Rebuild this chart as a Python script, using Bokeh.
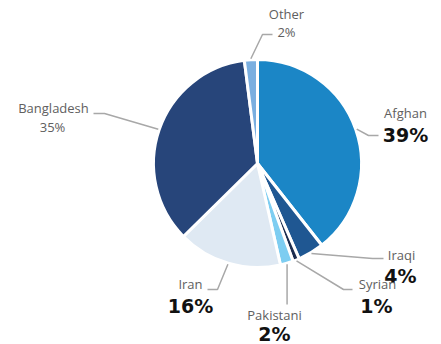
import math
from bokeh.plotting import figure
from bokeh.models import Range1d, ColumnDataSource
from bokeh.core.properties import value
from bokeh.embed import file_html
from bokeh.resources import INLINE

# ---- data ----
categories = ["Afghan", "Iraqi", "Syrian", "Pakistani", "Iran", "Bangladesh", "Other"]
shares = [39, 4, 1, 2, 16, 35, 2]
pct_labels = ["39%", "4%", "1%", "2%", "16%", "35%", "2%"]
colors = ["#1b86c6", "#1f5792", "#1b2d50", "#7dcdf1", "#dfe9f3", "#27457a", "#7aafe0"]
bold_pct = [True, True, True, True, True, False, False]

# ---- layout (page pixel coordinates, y down) ----
W, H = 441, 344
CX, CY, R = 257, 163, 104
# label centres: (name x, name y, pct x, pct y)
label_pos = {
    "Afghan": (405, 112, 405, 134),
    "Iraqi": (401, 254, 400, 275),
    "Syrian": (377, 283, 376, 305),
    "Pakistani": (274, 314, 274, 333),
    "Iran": (190, 283, 190, 305),
    "Bangladesh": (53, 107, 52, 126),
    "Other": (286, 13, 286, 31),
}
# leader elbows after the slice edge point
leader_pts = {
    "Afghan": [(368, 135), (378, 135)],
    "Iraqi": [(372, 258), (383, 258)],
    "Syrian": [(343, 289), (352, 289)],
    "Pakistani": [(None, 304)],
    "Iran": [(217, 289), (207, 289)],
    "Bangladesh": [(104, 113), (93, 113)],
    "Other": [(262, 34), (272, 34)],
}

def Y(py):
    return H - py

p = figure(width=W, height=H, x_range=Range1d(0, W), y_range=Range1d(0, H),
           output_backend="svg", toolbar_location=None, min_border=0)
p.axis.visible = False
p.grid.visible = False
p.outline_line_color = None
p.background_fill_color = "white"

total = sum(shares)
starts, ends, mids = [], [], []
cum = 0
for s in shares:
    a0 = math.pi / 2 - 2 * math.pi * cum / total
    cum += s
    a1 = math.pi / 2 - 2 * math.pi * cum / total
    starts.append(a0)
    ends.append(a1)
    mids.append((a0 + a1) / 2)

src = ColumnDataSource(dict(start=starts, end=ends, color=colors, name=categories))
p.wedge(x=CX, y=Y(CY), radius=R, start_angle="start", end_angle="end", direction="clock",
        fill_color="color", line_color="white", line_width=3, source=src)

for i, cat in enumerate(categories):
    m = mids[i]
    sx = CX + (R + 1) * math.cos(m)
    sy = Y(CY) + (R + 1) * math.sin(m)
    xs, ys = [sx], [sy]
    for (px, py) in leader_pts[cat]:
        xs.append(sx if px is None else px)
        ys.append(Y(py))
    p.line(xs, ys, line_color="#a8a8a8", line_width=1.5)

    nx, ny, qx, qy = label_pos[cat]
    p.text(x=[nx], y=[Y(ny)], text=[cat], text_align="center", text_baseline="middle",
           text_font=value("Open Sans"), text_font_size="13px", text_color="#606060")
    if bold_pct[i]:
        p.text(x=[qx], y=[Y(qy)], text=[pct_labels[i]], text_align="center", text_baseline="middle",
               text_font=value("DejaVu Sans"), text_font_size="19px", text_font_style="bold",
               text_color="#111111")
    else:
        p.text(x=[qx], y=[Y(qy)], text=[pct_labels[i]], text_align="center", text_baseline="middle",
               text_font=value("Open Sans"), text_font_size="13px", text_color="#606060")

open("out.html", "w").write(file_html(p, INLINE))
